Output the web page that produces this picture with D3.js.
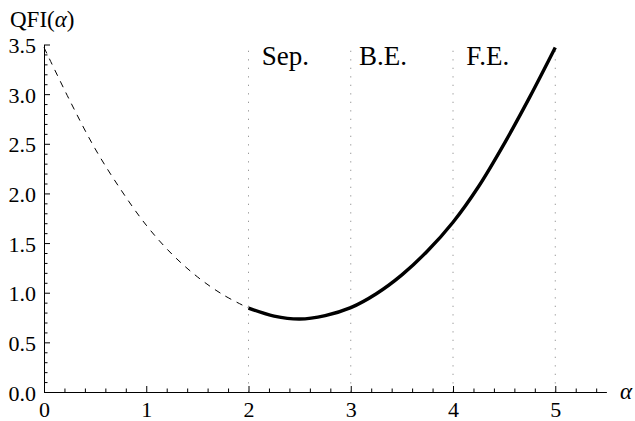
<!DOCTYPE html>
<html>
<head>
<meta charset="utf-8">
<script src="https://cdn.jsdelivr.net/npm/d3@7"></script>
<style>
  html, body { margin: 0; padding: 0; background: #fff; }
  svg { display: block; }
  svg text { font-family: "Liberation Serif", "DejaVu Serif", serif !important; fill: #000; }
</style>
</head>
<body>
<svg id="chart" width="635" height="421"></svg>
<script>
// ---- data ----
const alphaDashed = [0, 0.25, 0.5, 0.75, 1.0, 1.25, 1.5, 1.75, 2.0];
const qfiDashed   = [3.47, 2.94, 2.45, 2.04, 1.68, 1.39, 1.16, 0.98, 0.845];
const alphaSolid  = [2.0, 2.25, 2.5, 2.75, 3.0, 3.25, 3.5, 3.75, 4.0, 4.25, 4.5, 4.75, 5.0];
const qfiSolid    = [0.845, 0.765, 0.735, 0.77, 0.85, 0.99, 1.18, 1.42, 1.71, 2.07, 2.50, 2.97, 3.47];
const regionLines = [2, 3, 4, 5];
const regionLabels = ["Sep.", "B.E.", "F.E."];
const regionLabelX = [2.13, 3.08, 4.13];
const xTicks = [0, 1, 2, 3, 4, 5];
const yTicks = [0.0, 0.5, 1.0, 1.5, 2.0, 2.5, 3.0, 3.5];
const xMinorTicks = d3.range(0, 5.5, 0.2).filter(v => Math.abs(v - Math.round(v)) > 1e-6);
const yMinorTicks = d3.range(0, 3.5001, 0.1).filter(v => Math.abs(v * 2 - Math.round(v * 2)) > 1e-6);
const xDomain = [0, 5.5];
const yDomain = [0, 3.5];
const lineTop = 3.45;

// ---- layout ----
const svg = d3.select("#chart");
const x = d3.scaleLinear().domain(xDomain).range([44, 606.4]);
const y = d3.scaleLinear().domain(yDomain).range([392, 44.5]);
const serif = "'Liberation Serif', 'DejaVu Serif', serif";

// region dotted lines
svg.append("g").selectAll("line").data(regionLines).join("line")
  .attr("x1", d => x(d)).attr("x2", d => x(d))
  .attr("y1", y(0)).attr("y2", y(lineTop))
  .attr("stroke", "#9a9a9a").attr("stroke-width", 1)
  .attr("stroke-dasharray", "1.3,7.2");

// region labels
svg.append("g").selectAll("text").data(regionLabels).join("text")
  .attr("x", (d, i) => x(regionLabelX[i]))
  .attr("y", 65)
  .attr("font-size", 27)
  .style("font-family", serif)
  .text(d => d);

// axes
const xAxis = svg.append("g").attr("transform", `translate(0,${y(0)})`)
  .call(d3.axisBottom(x).tickValues(xTicks).tickSizeInner(-6).tickSizeOuter(0)
        .tickPadding(9).tickFormat(d3.format("d")));
const xMinor = svg.append("g").attr("transform", `translate(0,${y(0)})`)
  .call(d3.axisBottom(x).tickValues(xMinorTicks).tickSizeInner(-3.5).tickSizeOuter(0)
        .tickFormat(""));
xMinor.select(".domain").remove();

const yAxis = svg.append("g").attr("transform", `translate(${x(0)},0)`)
  .call(d3.axisLeft(y).tickValues(yTicks).tickSizeInner(-6).tickSizeOuter(0)
        .tickPadding(8).tickFormat(d3.format(".1f")));
const yMinor = svg.append("g").attr("transform", `translate(${x(0)},0)`)
  .call(d3.axisLeft(y).tickValues(yMinorTicks).tickSizeInner(-3.5).tickSizeOuter(0)
        .tickFormat(""));
yMinor.select(".domain").remove();

svg.selectAll("g").attr("font-family", serif);
svg.selectAll(".tick text")
  .style("font-family", serif)
  .attr("font-size", 22).attr("fill", "#000");
yAxis.selectAll(".tick text").attr("dy", "0.37em");
svg.selectAll(".domain, .tick line").attr("stroke", "#000").attr("stroke-width", 1);

// curves
const line = d3.line().x(d => x(d[0])).y(d => y(d[1])).curve(d3.curveCatmullRom.alpha(0.5));
svg.append("path")
  .datum(alphaDashed.map((a, i) => [a, qfiDashed[i]]))
  .attr("d", line).attr("fill", "none").attr("stroke", "#000")
  .attr("stroke-width", 1).attr("stroke-dasharray", "6.5,6");
svg.append("path")
  .datum(alphaSolid.map((a, i) => [a, qfiSolid[i]]))
  .attr("d", line).attr("fill", "none").attr("stroke", "#000")
  .attr("stroke-width", 3.4).attr("stroke-linecap", "butt");

// axis titles
const yt = svg.append("text").attr("x", 10).attr("y", 27).attr("font-size", 23)
  .style("font-family", serif);
yt.append("tspan").text("QFI(");
yt.append("tspan").attr("font-style", "italic").text("α");
yt.append("tspan").text(")");
svg.append("text").attr("x", 620).attr("y", 399).attr("font-size", 23)
  .style("font-family", serif)
  .attr("font-style", "italic").text("α");
</script>
</body>
</html>
